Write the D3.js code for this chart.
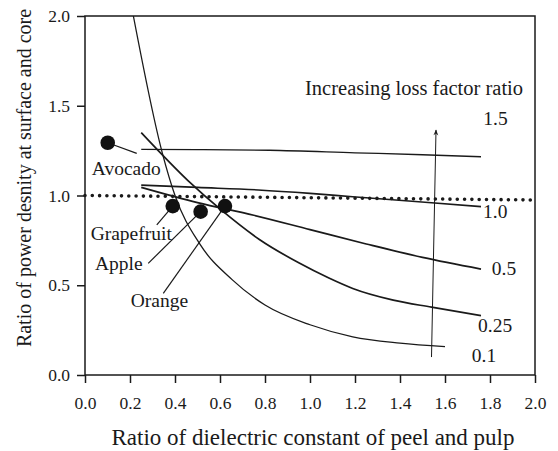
<!DOCTYPE html>
<html>
<head>
<meta charset="utf-8">
<script src="https://cdn.jsdelivr.net/npm/d3@7"></script>
<style>
body { margin: 0; background: #fff; }
text { font-family: "Liberation Serif", "Times New Roman", serif; fill: #1a1a1a; }
</style>
</head>
<body>
<div id="chart"></div>
<script>
"use strict";

// tick values
const xTicks = [0, 0.2, 0.4, 0.6, 0.8, 1.0, 1.2, 1.4, 1.6, 1.8, 2.0];
const yTicks = [0, 0.5, 1.0, 1.5, 2.0];

// loss factor ratio curves, [dielectric ratio, power density ratio]
const lossLabels = ["0.1", "0.25", "0.5", "1.0", "1.5"];
const curve_0_1 = [[0.215, 2.0], [0.344, 1.235], [0.4, 1.0], [0.51, 0.73], [0.655, 0.53], [0.8, 0.39],
    [1.0, 0.28], [1.19, 0.213], [1.4, 0.178], [1.6, 0.158]];
const curve_0_25 = [[0.25, 1.35], [0.46, 1.08], [0.6, 0.925], [0.775, 0.755], [0.95, 0.625], [1.084, 0.54],
    [1.19, 0.482], [1.37, 0.417], [1.54, 0.378], [1.76, 0.331]];
const curve_0_5 = [[0.25, 1.045], [0.5, 0.96], [0.75, 0.89], [1.0, 0.81], [1.25, 0.73], [1.5, 0.655], [1.76, 0.59]];
const curve_1_0 = [[0.25, 1.058], [0.5, 1.045], [0.77, 1.031], [1.0, 1.012], [1.19, 0.993], [1.54, 0.96], [1.76, 0.938]];
const curve_1_5 = [[0.25, 1.257], [0.5, 1.256], [0.82, 1.252], [1.2, 1.238], [1.5, 1.227], [1.76, 1.216]];
const unityLine = [[0, 1.0], [2.0, 0.975]];

// measured fruits
const fruitNames = ["Avocado", "Grapefruit", "Apple", "Orange"];
const fruitX = [0.101, 0.39, 0.514, 0.622];
const fruitY = [1.294, 0.941, 0.91, 0.941];

const plot = {
    width: 558,
    height: 451,
    left: 85,
    right: 535,
    top: 16,
    bottom: 375
}

// label placement, in data units
const fruitLabelPos = [[0.03, 1.114], [0.025, 0.752], [0.044, 0.585], [0.203, 0.38]];
const fruitLeaderEnd = [[0.23, 1.235], [0.319, 0.836], [0.281, 0.622], [0.348, 0.455]];
const curveLabelPos = [[1.719, 0.074], [1.747, 0.241], [1.808, 0.557], [1.769, 0.873], [1.77, 1.393]];

const svg = d3.select("#chart")
    .append("svg")
    .attr("width", plot.width)
    .attr("height", plot.height);

const xScale = d3.scaleLinear().domain([0, 2]).range([plot.left, plot.right]);
const yScale = d3.scaleLinear().domain([0, 2]).range([plot.bottom, plot.top]);

svg.append("defs").append("marker")
    .attr("id", "arrow")
    .attr("viewBox", "0 0 10 10")
    .attr("refX", 9).attr("refY", 5)
    .attr("markerWidth", 9).attr("markerHeight", 6)
    .attr("markerUnits", "userSpaceOnUse")
    .attr("orient", "auto")
    .append("path")
    .attr("d", "M0,1 L10,5 L0,9 L3,5 Z")
    .attr("fill", "#1a1a1a");

// axes
let xAxis = d3.axisBottom(xScale)
    .tickValues(xTicks)
    .tickSize(8)
    .tickPadding(14)
    .tickFormat(d3.format(".1f"));
let gx = svg.append("g")
    .attr("transform", "translate(0," + plot.bottom + ")")
    .call(xAxis);

let yAxis = d3.axisLeft(yScale)
    .tickValues(yTicks)
    .tickSize(8)
    .tickPadding(7)
    .tickFormat(d3.format(".1f"));
let gy = svg.append("g")
    .attr("transform", "translate(" + plot.left + ",0)")
    .call(yAxis);

[gx, gy].forEach((g) => {
    g.select(".domain").remove();
    g.selectAll("line").attr("stroke", "#1a1a1a").attr("stroke-width", 1.5);
    g.selectAll("text")
        .style("font-family", '"Liberation Serif", serif')
        .style("font-size", "17.5px")
        .attr("fill", "#1a1a1a");
});

svg.append("rect")
    .attr("x", plot.left)
    .attr("y", plot.top)
    .attr("width", plot.right - plot.left)
    .attr("height", plot.bottom - plot.top)
    .attr("fill", "none")
    .attr("stroke", "#1a1a1a")
    .attr("stroke-width", 1.5);

// curves
let line = d3.line()
    .x((d) => xScale(d[0]))
    .y((d) => yScale(d[1]))
    .curve(d3.curveMonotoneX);

const curves = [curve_0_1, curve_0_25, curve_0_5, curve_1_0, curve_1_5];
const curveWidths = [1.3, 1.7, 1.7, 1.6, 1.3];

svg.selectAll(".curve")
    .data(curves)
    .enter()
    .append("path")
    .attr("class", "curve")
    .attr("d", line)
    .attr("fill", "none")
    .attr("stroke", "#1a1a1a")
    .attr("stroke-width", (d, i) => curveWidths[i]);

svg.append("path")
    .datum(unityLine)
    .attr("d", d3.line().x((d) => xScale(d[0])).y((d) => yScale(d[1])))
    .attr("fill", "none")
    .attr("stroke", "#1a1a1a")
    .attr("stroke-width", 3.6)
    .attr("stroke-linecap", "round")
    .attr("stroke-dasharray", "0,7.3");

svg.selectAll(".curveLabel")
    .data(lossLabels)
    .enter()
    .append("text")
    .attr("x", (d, i) => xScale(curveLabelPos[i][0]))
    .attr("y", (d, i) => yScale(curveLabelPos[i][1]))
    .style("font-size", "19.5px")
    .text((d) => d);

// arrow
svg.append("line")
    .attr("x1", xScale(1.54))
    .attr("y1", yScale(0.1))
    .attr("x2", xScale(1.56))
    .attr("y2", yScale(1.365))
    .attr("stroke", "#1a1a1a")
    .attr("stroke-width", 1)
    .attr("marker-end", "url(#arrow)");

svg.append("text")
    .attr("x", xScale(0.978))
    .attr("y", yScale(1.56))
    .style("font-size", "20.5px")
    .text("Increasing loss factor ratio");

// fruits
svg.selectAll(".leader")
    .data(fruitNames)
    .enter()
    .append("line")
    .attr("x1", (d, i) => xScale(fruitX[i]))
    .attr("y1", (d, i) => yScale(fruitY[i]))
    .attr("x2", (d, i) => xScale(fruitLeaderEnd[i][0]))
    .attr("y2", (d, i) => yScale(fruitLeaderEnd[i][1]))
    .attr("stroke", "#1a1a1a")
    .attr("stroke-width", 1.2);

svg.selectAll(".fruit")
    .data(fruitNames)
    .enter()
    .append("circle")
    .attr("cx", (d, i) => xScale(fruitX[i]))
    .attr("cy", (d, i) => yScale(fruitY[i]))
    .attr("r", 7.3)
    .attr("fill", "#111");

svg.selectAll(".fruitLabel")
    .data(fruitNames)
    .enter()
    .append("text")
    .attr("x", (d, i) => xScale(fruitLabelPos[i][0]))
    .attr("y", (d, i) => yScale(fruitLabelPos[i][1]))
    .style("font-size", "19.5px")
    .text((d) => d);

// axis titles
svg.append("text")
    .attr("x", 313)
    .attr("y", 445)
    .attr("text-anchor", "middle")
    .style("font-size", "23px")
    .text("Ratio of dielectric constant of peel and pulp");

svg.append("text")
    .attr("transform", "translate(31," + 178 + ") rotate(-90)")
    .attr("text-anchor", "middle")
    .style("font-size", "20px")
    .text("Ratio of power desnity at surface and core");
</script>
</body>
</html>
